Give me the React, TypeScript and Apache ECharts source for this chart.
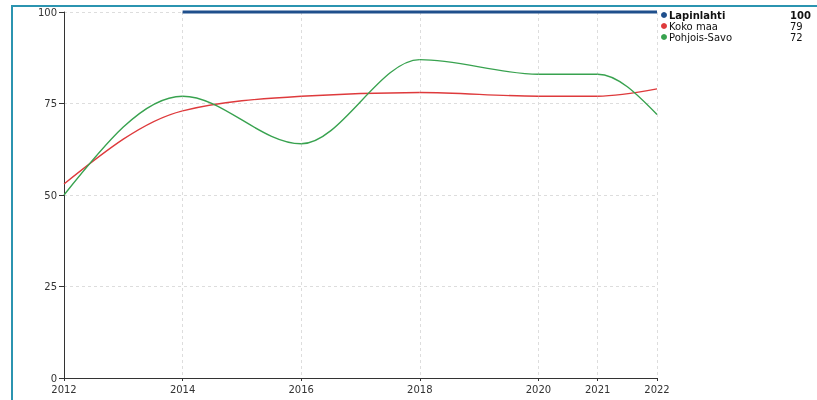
import React, { useEffect, useRef } from "react";
import * as echarts from "echarts";

const years = [2012, 2014, 2016, 2018, 2020, 2021, 2022];
const seriesNames = ["Lapinlahti", "Koko maa", "Pohjois-Savo"];
const lapinlahti: (number | null)[] = [null, 100, 100, 100, 100, 100, 100];
const kokoMaa: (number | null)[] = [53, 73, 77, 78, 77, 77, 79];
const pohjoisSavo: (number | null)[] = [50, 77, 64, 87, 83, 83, 72];
const yTicks = [0, 25, 50, 75, 100];
const colors = ["#1f4f8c", "#de3a3c", "#38a24f"];

const FONT = "DejaVu Sans";

function toPairs(vals: (number | null)[]) {
  const out: number[][] = [];
  years.forEach((y, i) => {
    if (vals[i] !== null && vals[i] !== undefined) out.push([y, vals[i] as number]);
  });
  return out;
}

function monotoneSeries(name: string, vals: (number | null)[], color: string) {
  const pts = toPairs(vals);
  return {
    name,
    type: "custom",
    coordinateSystem: "cartesian2d",
    encode: { x: 0, y: 1 },
    data: pts,
    silent: true,
    z: 3,
    renderItem: (params: any, api: any) => {
      const i = params.dataIndex;
      if (i >= pts.length - 1) return null;
      const P = pts.map((p) => api.coord(p));
      const n = P.length;
      const sign = (v: number) => (v < 0 ? -1 : 1);
      const m: number[] = new Array(n).fill(0);
      for (let k = 1; k < n - 1; k++) {
        const h0 = P[k][0] - P[k - 1][0];
        const h1 = P[k + 1][0] - P[k][0];
        const s0 = (P[k][1] - P[k - 1][1]) / h0;
        const s1 = (P[k + 1][1] - P[k][1]) / h1;
        const p = (s0 * h1 + s1 * h0) / (h0 + h1);
        m[k] = (sign(s0) + sign(s1)) * Math.min(Math.abs(s0), Math.abs(s1), 0.5 * Math.abs(p)) || 0;
      }
      if (n > 2) {
        const h = P[1][0] - P[0][0];
        m[0] = (3 * (P[1][1] - P[0][1]) / h - m[1]) / 2;
        const hl = P[n - 1][0] - P[n - 2][0];
        m[n - 1] = (3 * (P[n - 1][1] - P[n - 2][1]) / hl - m[n - 2]) / 2;
      } else {
        const s = (P[1][1] - P[0][1]) / (P[1][0] - P[0][0]);
        m[0] = s;
        m[1] = s;
      }
      const a = P[i];
      const b = P[i + 1];
      const dx = (b[0] - a[0]) / 3;
      return {
        type: "bezierCurve",
        shape: {
          x1: a[0],
          y1: a[1],
          cpx1: a[0] + dx,
          cpy1: a[1] + dx * m[i],
          cpx2: b[0] - dx,
          cpy2: b[1] - dx * m[i + 1],
          x2: b[0],
          y2: b[1],
        },
        style: { stroke: color, fill: "none", lineWidth: 1.4 },
      };
    },
  };
}

export default function App() {
  const ref = useRef<HTMLDivElement>(null);
  useEffect(() => {
    if (!ref.current) return;
    const chart = echarts.init(ref.current, null, { renderer: "svg" });
    const allVals = [lapinlahti, kokoMaa, pohjoisSavo];
    const lastVals = allVals.map((v) => v[v.length - 1]);
    const legendGraphics: any[] = [];
    seriesNames.forEach((nm, k) => {
      const y = 15 + k * 11;
      legendGraphics.push({
        type: "circle",
        shape: { cx: 664, cy: y, r: 3 },
        style: { fill: colors[k] },
      });
      legendGraphics.push({
        type: "text",
        x: 669,
        y,
        style: {
          text: nm,
          fill: "#111",
          font: `${k === 0 ? "bold " : ""}10px '${FONT}'`,
          verticalAlign: "middle",
          align: "left",
        },
      });
      legendGraphics.push({
        type: "text",
        x: 790,
        y,
        style: {
          text: String(lastVals[k]),
          fill: "#111",
          font: `${k === 0 ? "bold " : ""}10px '${FONT}'`,
          verticalAlign: "middle",
          align: "left",
        },
      });
    });

    chart.setOption({
      animation: false,
      textStyle: { fontFamily: FONT },
      grid: { left: 64, right: 160, top: 12, bottom: 22, containLabel: false },
      xAxis: {
        type: "value",
        min: years[0],
        max: years[years.length - 1],
        axisLine: { show: true, lineStyle: { color: "#333", width: 1 } },
        axisTick: { show: true, length: 3, customValues: years, lineStyle: { color: "#333" } },
        axisLabel: {
          customValues: years,
          color: "#333",
          fontSize: 10,
          lineHeight: 10,
          margin: 6,
          fontFamily: FONT,
          formatter: (v: number) => String(v),
        },
        splitLine: { show: true, lineStyle: { color: "#dddddd", type: [3, 3], width: 1 } },
      },
      yAxis: {
        type: "value",
        min: yTicks[0],
        max: yTicks[yTicks.length - 1],
        interval: 25,
        axisLine: { show: true, lineStyle: { color: "#333", width: 1 } },
        axisTick: { show: true, length: 5, lineStyle: { color: "#333" } },
        axisLabel: { color: "#333", fontSize: 10, lineHeight: 10, margin: 7, fontFamily: FONT },
        splitLine: { show: true, lineStyle: { color: "#dddddd", type: [3, 3], width: 1 } },
      },
      series: [
        {
          name: seriesNames[0],
          type: "line",
          data: toPairs(lapinlahti),
          showSymbol: false,
          symbol: "none",
          lineStyle: { color: colors[0], width: 3 },
          itemStyle: { color: colors[0] },
          clip: false,
          z: 4,
          silent: true,
        },
        monotoneSeries(seriesNames[1], kokoMaa, colors[1]),
        monotoneSeries(seriesNames[2], pohjoisSavo, colors[2]),
      ],
      graphic: legendGraphics,
    });
    return () => chart.dispose();
  }, []);

  return (
    <>
      <div
        style={{
          position: "fixed",
          left: 11,
          top: 5,
          width: 1000,
          height: 600,
          border: "2px solid #2b94b0",
          boxSizing: "border-box",
        }}
      />
      <div ref={ref} style={{ position: "fixed", left: 0, top: 0, width: 817, height: 400 }} />
    </>
  );
}
